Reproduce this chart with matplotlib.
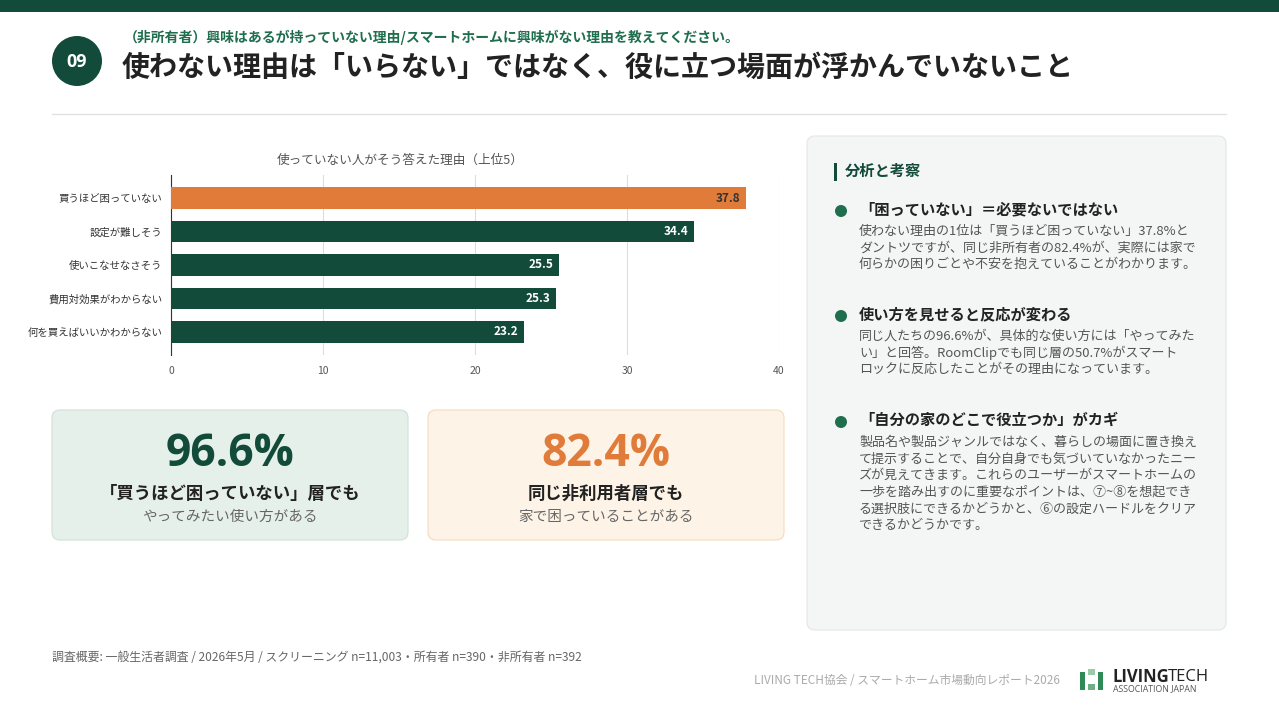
import matplotlib
matplotlib.use("Agg")
import matplotlib.pyplot as plt
from matplotlib.patches import FancyBboxPatch, Rectangle, Circle

plt.rcParams['font.family'] = ['Noto Sans CJK JP', 'DejaVu Sans']

W, H = 1279, 719

# ---------------------------
# Data
# ---------------------------

reasons = ["買うほど困っていない", "設定が難しそう", "使いこなせなさそう",
           "費用対効果がわからない", "何を買えばいいかわからない"]
shares = [37.8, 34.4, 25.5, 25.3, 23.2]
x_ticks = [0, 10, 20, 30, 40]

card_values = ["96.6%", "82.4%"]
card_heads = ["「買うほど困っていない」層でも", "同じ非利用者層でも"]
card_subs = ["やってみたい使い方がある", "家で困っていることがある"]

point_heads = ["「困っていない」＝必要ないではない",
               "使い方を見せると反応が変わる",
               "「自分の家のどこで役立つか」がカギ"]
point_bodies = [
    ["使わない理由の1位は「買うほど困っていない」37.8%と",
     "ダントツですが、同じ非所有者の82.4%が、実際には家で",
     "何らかの困りごとや不安を抱えていることがわかります。"],
    ["同じ人たちの96.6%が、具体的な使い方には「やってみた",
     "い」と回答。RoomClipでも同じ層の50.7%がスマート",
     "ロックに反応したことがその理由になっています。"],
    ["製品名や製品ジャンルではなく、暮らしの場面に置き換え",
     "て提示することで、自分自身でも気づいていなかったニー",
     "ズが見えてきます。これらのユーザーがスマートホームの",
     "一歩を踏み出すのに重要なポイントは、⑦~⑧を想起でき",
     "る選択肢にできるかどうかと、⑥の設定ハードルをクリア",
     "できるかどうかです。"],
]

GREEN = "#134b3a"
GREEN2 = "#1f6e4e"
ORANGE = "#e07b39"

fig = plt.figure(figsize=(W / 100, H / 100), dpi=100)
fig.patch.set_facecolor("white")

# background canvas in pixel coordinates
bg = fig.add_axes([0, 0, 1, 1], zorder=0)
bg.set_xlim(0, W)
bg.set_ylim(H, 0)
bg.axis("off")


def box(x0, y0, x1, y1, fc, ec, r=8):
    bg.add_patch(FancyBboxPatch((x0, y0), x1 - x0, y1 - y0,
                                boxstyle=f"round,pad=0,rounding_size={r}",
                                fc=fc, ec=ec, lw=0.8))


# ---------------------------
# Header
# ---------------------------

bg.add_patch(Rectangle((0, 0), W, 12, fc=GREEN, ec="none"))
bg.add_patch(Circle((77, 61), 25, fc=GREEN, ec="none"))
bg.text(77, 62, "09", color="white", fontsize=13, fontweight="bold",
        ha="center", va="center", family=["Open Sans", "DejaVu Sans"])
bg.text(124, 37, "（非所有者）興味はあるが持っていない理由/スマートホームに興味がない理由を教えてください。",
        color=GREEN2, fontsize=10, fontweight="bold", ha="left", va="center")
bg.text(122, 68, "使わない理由は「いらない」ではなく、役に立つ場面が浮かんでいないこと",
        color="#222222", fontsize=20.2, fontweight="bold", ha="left", va="center")
bg.plot([52, 1226], [114, 114], color="#e2e2e2", lw=1)

# ---------------------------
# Bar chart
# ---------------------------

ax = fig.add_axes([171 / W, 1 - 355 / H, (779 - 171) / W, (355 - 175) / H], zorder=2)
ax.patch.set_alpha(0)
ypos = list(range(len(reasons)))
colors = [ORANGE] + [GREEN] * (len(reasons) - 1)
bars = ax.barh(ypos, shares, height=0.64, color=colors, zorder=3)
for i, (b, v) in enumerate(zip(bars, shares)):
    ax.annotate(f"{v}", (v, b.get_y() + b.get_height() / 2), xytext=(-4, 0),
                textcoords="offset points", ha="right", va="center",
                fontsize=8.5, fontweight="bold",
                color="#333333" if i == 0 else "white", zorder=4)

ax.set_xlim(0, 40)
ax.set_ylim(len(reasons) - 1 + 0.687, -0.687)
ax.set_xticks(x_ticks)
ax.set_xticklabels([str(t) for t in x_ticks], fontsize=7.5, color="#555555")
ax.set_yticks(ypos)
ax.set_yticklabels(reasons, fontsize=7.5, color="#333333")
ax.tick_params(length=0, pad=6)
ax.tick_params(axis="x", pad=8)
ax.grid(axis="x", color="#dddddd", lw=0.8, zorder=0)
for s in ["top", "right", "bottom"]:
    ax.spines[s].set_visible(False)
ax.spines["left"].set_color("#333333")
ax.spines["left"].set_linewidth(0.8)
bg.text(400, 160, "使っていない人がそう答えた理由（上位5）", color="#555555",
        fontsize=9.1, ha="center", va="center")

# ---------------------------
# Cards
# ---------------------------

cards = [(52, 408, "#e6f0eb", "#cfe1d7", GREEN),
         (428, 784, "#fdf3e6", "#f3dcc0", ORANGE)]
for (x0, x1, fc, ec, col), val, head, sub in zip(cards, card_values, card_heads, card_subs):
    box(x0, 410, x1, 540, fc, ec)
    cx = (x0 + x1) / 2
    bg.text(cx, 454, val, color=col, fontsize=32, fontweight="bold",
            ha="center", va="center", family=["Open Sans", "Noto Sans CJK JP"])
    bg.text(cx, 494, head, color="#222222", fontsize=12.5, fontweight="bold",
            ha="center", va="center")
    bg.text(cx, 517, sub, color="#666666", fontsize=10.5, ha="center", va="center")

# ---------------------------
# Analysis panel
# ---------------------------

box(807, 136, 1226, 630, "#f4f6f5", "#e3e7e5")
bg.add_patch(Rectangle((834, 163), 3, 18, fc=GREEN, ec="none"))
bg.text(845, 171, "分析と考察", color=GREEN, fontsize=11, fontweight="bold",
        ha="left", va="center")

head_y = [209, 314, 420]
for hy, head, body in zip(head_y, point_heads, point_bodies):
    bg.add_patch(Circle((841, hy + 2), 6, fc=GREEN2, ec="none"))
    bg.text(859, hy, head, color="#222222", fontsize=11, fontweight="bold",
            ha="left", va="center")
    for k, line in enumerate(body):
        bg.text(859, hy + 22 + k * 16.8, line, color="#555555", fontsize=9.4,
                ha="left", va="center")

# ---------------------------
# Footer
# ---------------------------

bg.text(52, 657, "調査概要: 一般生活者調査 / 2026年5月 / スクリーニング n=11,003・所有者 n=390・非所有者 n=392",
        color="#666666", fontsize=8.6, ha="left", va="center")
bg.text(1060, 680, "LIVING TECH協会 / スマートホーム市場動向レポート2026",
        color="#aaaaaa", fontsize=8.5, ha="right", va="center")

bg.add_patch(Rectangle((1080, 672), 5, 18, fc="#2e8b57", ec="none"))
bg.add_patch(Rectangle((1088, 669), 7, 6, fc="#9cc9a8", ec="none"))
bg.add_patch(Rectangle((1088, 684), 7, 6, fc="#6fae84", ec="none"))
bg.add_patch(Rectangle((1098, 672), 5, 18, fc="#2e8b57", ec="none"))
bg.text(1112, 677, "LIVING", color="#222222", fontsize=12, fontweight="bold",
        ha="left", va="center", family=["Open Sans", "DejaVu Sans"])
bg.text(1168, 677, "TECH", color="#222222", fontsize=12,
        ha="left", va="center", family=["Open Sans", "DejaVu Sans"])
bg.text(1113, 689, "ASSOCIATION JAPAN", color="#555555", fontsize=6.3,
        ha="left", va="center", family=["Open Sans", "DejaVu Sans"])

fig.savefig("out.png", dpi=100)
